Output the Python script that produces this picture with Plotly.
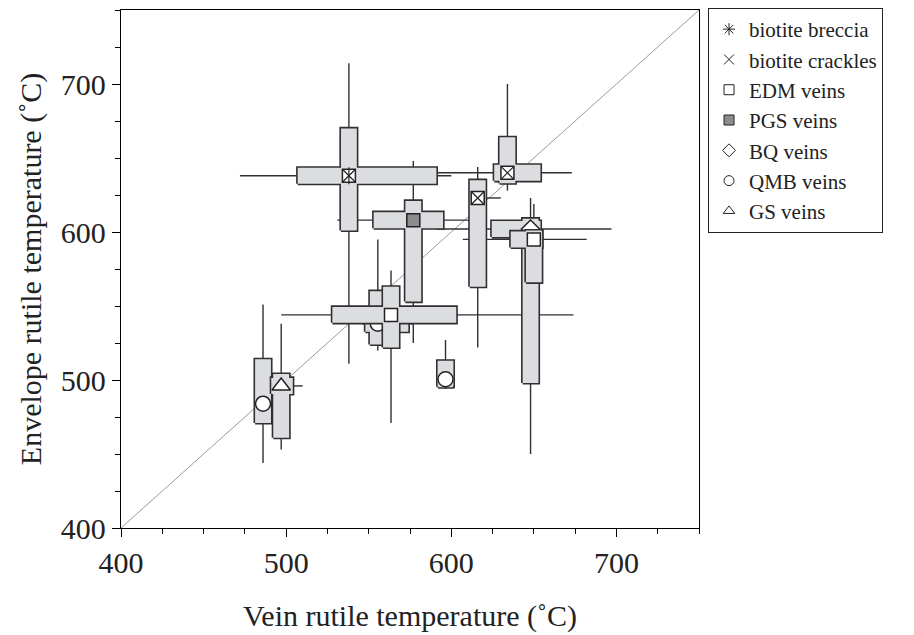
import plotly.graph_objects as go

# ---------------- data ----------------
categories = ["biotite breccia", "biotite crackles", "EDM veins", "PGS veins",
              "BQ veins", "QMB veins", "GS veins"]

# one entry per sample, listed in drawing order
sample_cat = ["QMB veins", "GS veins", "QMB veins", "QMB veins", "EDM veins",
              "PGS veins", "biotite breccia", "biotite crackles",
              "biotite crackles", "BQ veins", "EDM veins"]
x_med = [486, 497, 596.5, 555.5, 563.5, 577, 538, 616, 634, 648, 650]
y_med = [484, 496, 500.5, 538, 544, 608, 638, 623, 640, 602, 595]
x_q1 = [483, 491, 592, 548, 528, 553, 507, 613, 626, 624.5, 636]
x_q3 = [489, 504, 601, 574, 603, 595, 591, 620, 654, 654, 655]
y_q1 = [471, 461, 496, 524, 522, 553, 601, 563, 633, 498, 566]
y_q3 = [514, 504, 513, 560, 563, 621, 670, 635, 664, 609, 601]
x_min = [483, 491, 591, 546, 497, 531, 472, 612, 591, 591, 607]
x_max = [493, 510, 602, 577, 674, 611, 600, 630, 673, 697, 682]
y_min = [444, 453, 494, 520, 471, 525, 511, 522, 628, 450, 560]
y_max = [551, 538, 527, 595, 574, 648, 714, 644, 700, 623, 619]

axis_range = [400, 750]
tick_vals = [400, 500, 600, 700]

# ---------------- styles ----------------
BOX_HX = 4.8   # half width of vertical box (x units)
BOX_HY = 5.4   # half height of horizontal box (y units)
BOX_FILL = "#dcdde0"
EDGE = "#303030"
INK = "#222222"

marker_style = {
    "biotite breccia": dict(symbol="square", color="white", size=13),
    "biotite crackles": dict(symbol="square", color="white", size=13),
    "EDM veins": dict(symbol="square", color="white", size=13),
    "PGS veins": dict(symbol="square", color="#8c8c8c", size=13),
    "BQ veins": dict(symbol="diamond", color="white", size=14),
    "QMB veins": dict(symbol="circle", color="white", size=15),
    "GS veins": dict(symbol="triangle-up", color="white", size=16),
}
legend_symbol = {
    "biotite breccia": ("asterisk-open", INK),
    "biotite crackles": ("x-thin-open", INK),
    "EDM veins": ("square-open", INK),
    "PGS veins": ("square", "#8c8c8c"),
    "BQ veins": ("diamond-open", INK),
    "QMB veins": ("circle-open", INK),
    "GS veins": ("triangle-up-open", INK),
}
overlay = {
    "biotite breccia": ["x-thin-open", "line-ns-open"],
    "biotite crackles": ["x-thin-open"],
}

fig = go.Figure()

# 1:1 line
fig.add_trace(go.Scatter(x=axis_range, y=axis_range, mode="lines",
                         line=dict(color="#9a9a9a", width=1),
                         showlegend=False, hoverinfo="skip"))

# whiskers
wx, wy = [], []
for i in range(len(x_med)):
    wx += [x_min[i], x_max[i], None, x_med[i], x_med[i], None]
    wy += [y_med[i], y_med[i], None, y_min[i], y_max[i], None]
fig.add_trace(go.Scatter(x=wx, y=wy, mode="lines",
                         line=dict(color=EDGE, width=1.4),
                         showlegend=False, hoverinfo="skip"))

shown = set()
for i in range(len(x_med)):
    cat = sample_cat[i]
    xm, ym = x_med[i], y_med[i]
    px = [x_q1[i], x_q3[i], x_q3[i], x_q1[i], x_q1[i], None,
          xm - BOX_HX, xm + BOX_HX, xm + BOX_HX, xm - BOX_HX, xm - BOX_HX]
    py = [ym - BOX_HY, ym - BOX_HY, ym + BOX_HY, ym + BOX_HY, ym - BOX_HY, None,
          y_q1[i], y_q1[i], y_q3[i], y_q3[i], y_q1[i]]
    # outline
    fig.add_trace(go.Scatter(x=px, y=py, mode="lines",
                             line=dict(color=EDGE, width=3.2),
                             showlegend=False, hoverinfo="skip"))
    # fill (hides inner outline so the cross looks like one shape)
    fig.add_trace(go.Scatter(x=px, y=py, mode="lines", fill="toself",
                             fillcolor=BOX_FILL, line=dict(width=0, color=BOX_FILL),
                             showlegend=False, hoverinfo="skip"))
    # legend entry (small symbol, hidden below the marker)
    if cat not in shown:
        shown.add(cat)
        sym, col = legend_symbol[cat]
        fig.add_trace(go.Scatter(x=[xm], y=[ym], mode="markers", name=cat,
                                 legendrank=categories.index(cat) + 1,
                                 marker=dict(symbol=sym, size=10, color=col,
                                             line=dict(color=INK, width=1)),
                                 showlegend=True))
    ms = marker_style[cat]
    fig.add_trace(go.Scatter(x=[xm], y=[ym], mode="markers",
                             marker=dict(symbol=ms["symbol"], size=ms["size"],
                                         color=ms["color"],
                                         line=dict(color=INK, width=1.5)),
                             showlegend=False, hoverinfo="skip"))
    for sym in overlay.get(cat, []):
        fig.add_trace(go.Scatter(x=[xm], y=[ym], mode="markers",
                                 marker=dict(symbol=sym, size=12, color=INK,
                                             line=dict(color=INK, width=1.2)),
                                 showlegend=False, hoverinfo="skip"))

axis_common = dict(range=axis_range, tickvals=tick_vals, ticks="outside",
                   ticklen=8, tickwidth=1.3, tickcolor="black",
                   minor=dict(dtick=25, tick0=400, ticks="outside", ticklen=5,
                              tickwidth=1.3, tickcolor="black"),
                   showline=True, linecolor="black", linewidth=1.3, mirror=True,
                   showgrid=False, zeroline=False,
                   tickfont=dict(size=30, color=INK))

fig.update_xaxes(**axis_common,
                 title=dict(text="Vein rutile temperature (˚C)",
                            font=dict(size=30, color=INK), standoff=26))
fig.update_yaxes(**axis_common,
                 title=dict(text="Envelope rutile temperature (˚C)",
                            font=dict(size=30, color=INK), standoff=10))

fig.update_layout(
    width=914, height=635,
    margin=dict(l=121, r=215, t=10, b=107, autoexpand=False),
    plot_bgcolor="white", paper_bgcolor="white",
    font=dict(family="Liberation Serif", color=INK),
    legend=dict(x=1.0156, y=1.0039, xanchor="left", yanchor="top",
                bordercolor=INK, borderwidth=1, bgcolor="white",
                font=dict(size=21, color=INK), tracegroupgap=0,
                itemsizing="trace"),
    hovermode=False,
)

fig.write_html("out.html")
